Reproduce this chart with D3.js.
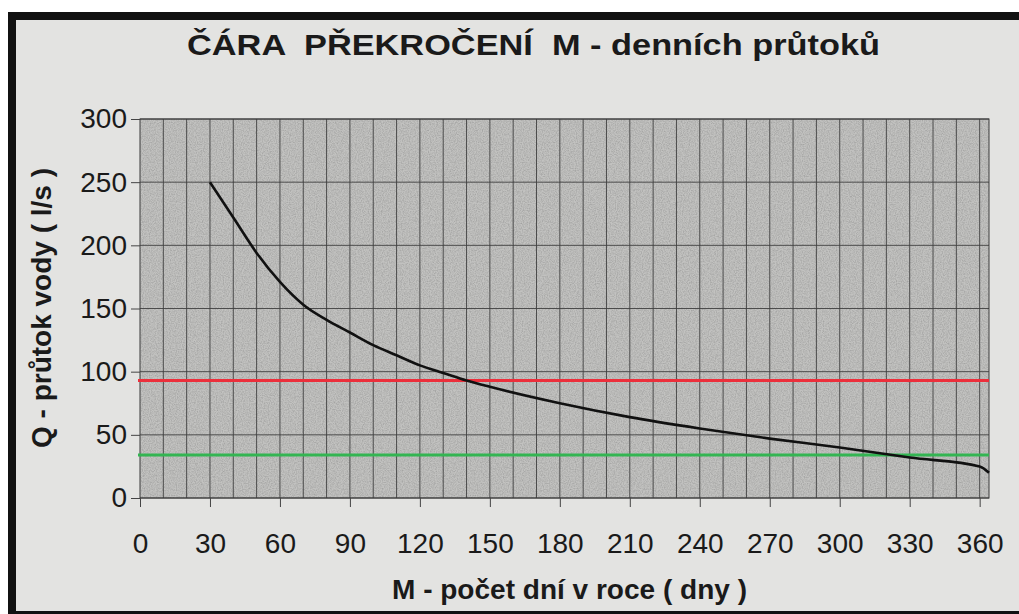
<!DOCTYPE html>
<html>
<head>
<meta charset="utf-8">
<script src="https://cdn.jsdelivr.net/npm/d3@7"></script>
<style>
  body { margin: 0; background: #ffffff; }
  text { font-family: "Liberation Sans", Arial, sans-serif; fill: #1a1a1a; }
</style>
</head>
<body>
<div id="chart"></div>
<script>
// data
var days = [30, 40, 50, 60, 70, 80, 90, 100, 110, 120, 130, 140, 150, 180, 210, 240, 270, 300, 330, 360, 364]
var flow = [250, 222, 194, 171, 153, 141, 131, 121, 113, 105, 99, 93, 88, 75, 64, 55, 47, 40, 32, 25, 20]
var xTicks = [0, 30, 60, 90, 120, 150, 180, 210, 240, 270, 300, 330, 360]
var yTicks = [0, 50, 100, 150, 200, 250, 300]
var redLevel = [93]
var greenLevel = [34]

var width = 1019
height = 614
plotLeft = 140
plotRight = 989
plotTop = 119
plotBottom = 498

var svg = d3.select("#chart")
  .append("svg")
  .attr("width", width)
  .attr("height", height)

// paper with the black frame
svg.append("rect")
  .attr("x", 0).attr("y", 0)
  .attr("width", width).attr("height", height)
  .attr("fill", "#ffffff")
svg.append("rect")
  .attr("x", 8).attr("y", 12)
  .attr("width", width - 8).attr("height", height - 12)
  .attr("fill", "#111111")
svg.append("rect")
  .attr("x", 16).attr("y", 20)
  .attr("width", width - 16).attr("height", 611 - 20)
  .attr("fill", "#e3e3e1")

var x = d3.scaleLinear().domain([0, 364]).range([plotLeft, plotRight])
var y = d3.scaleLinear().domain([0, 300]).range([plotBottom, plotTop])

// grainy grey plot area
var defs = svg.append("defs")
var grain = defs.append("filter").attr("id", "grain")
  .attr("x", 0).attr("y", 0).attr("width", 1).attr("height", 1)
grain.append("feTurbulence")
  .attr("type", "fractalNoise")
  .attr("baseFrequency", 0.85)
  .attr("numOctaves", 2)
  .attr("seed", 3)
grain.append("feColorMatrix")
  .attr("type", "matrix")
  .attr("values", "0 0 0 0 0.2  0 0 0 0 0.2  0 0 0 0 0.2  1.6 0 0 0 -0.55")
grain.append("feComposite").attr("in2", "SourceGraphic").attr("operator", "in")

svg.append("rect")
  .attr("x", plotLeft).attr("y", plotTop)
  .attr("width", plotRight - plotLeft).attr("height", plotBottom - plotTop)
  .attr("fill", "#c2c2c0")
svg.append("rect")
  .attr("x", plotLeft).attr("y", plotTop)
  .attr("width", plotRight - plotLeft).attr("height", plotBottom - plotTop)
  .attr("fill", "#c2c2c0")
  .attr("filter", "url(#grain)")
  .style("opacity", 0.5)

// grid: every 10 days, every 50 l/s
var grid = svg.append("g")
grid.selectAll("line.v")
  .data(d3.range(10, 364, 10))
  .enter()
  .append("line")
  .attr("x1", function (d) { return x(d) }).attr("x2", function (d) { return x(d) })
  .attr("y1", plotTop).attr("y2", plotBottom)
  .attr("stroke", "#404040")
  .style("stroke-width", "0.9px")
grid.selectAll("line.h")
  .data(yTicks)
  .enter()
  .append("line")
  .attr("x1", plotLeft).attr("x2", plotRight)
  .attr("y1", function (d) { return y(d) }).attr("y2", function (d) { return y(d) })
  .attr("stroke", "#404040")
  .style("stroke-width", "0.9px")
svg.append("rect")
  .attr("x", plotLeft).attr("y", plotTop)
  .attr("width", plotRight - plotLeft).attr("height", plotBottom - plotTop)
  .attr("fill", "none")
  .attr("stroke", "#3a3a3a")
  .style("stroke-width", "1px")

// axes
var xAxis = svg.append("g")
  .attr("transform", "translate(0," + plotBottom + ")")
  .call(d3.axisBottom(x).tickValues(xTicks).tickSize(9).tickPadding(26))
var yAxis = svg.append("g")
  .attr("transform", "translate(" + plotLeft + ",0)")
  .call(d3.axisLeft(y).tickValues(yTicks).tickSize(9).tickPadding(4))
xAxis.select(".domain").remove()
yAxis.select(".domain").remove()
svg.selectAll(".tick line").attr("stroke", "#444444")
svg.selectAll(".tick text")
  .style("font-family", "'Liberation Sans', Arial, sans-serif")
  .style("font-size", "28px")
  .attr("fill", "#1e1e1e")

// reference levels
svg.append("g")
  .selectAll("line")
  .data(redLevel)
  .enter()
  .append("line")
  .attr("x1", plotLeft - 2).attr("x2", plotRight)
  .attr("y1", function (d) { return y(d) }).attr("y2", function (d) { return y(d) })
  .attr("stroke", "#ec2f3b")
  .style("stroke-width", "3px")
svg.append("g")
  .selectAll("line")
  .data(greenLevel)
  .enter()
  .append("line")
  .attr("x1", plotLeft - 2).attr("x2", plotRight)
  .attr("y1", function (d) { return y(d) }).attr("y2", function (d) { return y(d) })
  .attr("stroke", "#33b552")
  .style("stroke-width", "3px")

// duration curve
var line = d3.line()
  .x(function (d, i) { return x(days[i]) })
  .y(function (d) { return y(d) })
  .curve(d3.curveMonotoneX)
svg.append("path")
  .attr("d", line(flow))
  .attr("fill", "none")
  .attr("stroke", "#111111")
  .style("stroke-width", "2.6px")

// titles (the print is a bit wider than the font, so stretch to length)
svg.append("text")
  .attr("x", 187).attr("y", 55)
  .attr("xml:space", "preserve")
  .style("white-space", "pre")
  .style("font-size", "29px")
  .style("font-weight", "bold")
  .attr("textLength", 693)
  .attr("lengthAdjust", "spacingAndGlyphs")
  .text("ČÁRA  PŘEKROČENÍ  M - denních průtoků")
svg.append("text")
  .attr("x", 392).attr("y", 599)
  .style("font-size", "27px")
  .style("font-weight", "bold")
  .attr("textLength", 355)
  .attr("lengthAdjust", "spacingAndGlyphs")
  .text("M - počet dní v roce ( dny )")
svg.append("text")
  .attr("transform", "translate(51,448) rotate(-90)")
  .style("font-size", "27px")
  .style("font-weight", "bold")
  .attr("textLength", 280)
  .attr("lengthAdjust", "spacingAndGlyphs")
  .text("Q - průtok vody ( l/s )")
</script>
</body>
</html>
